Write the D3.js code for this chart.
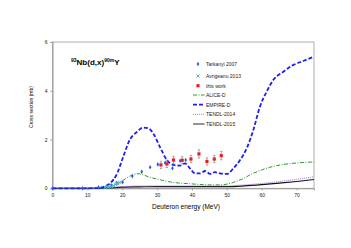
<!DOCTYPE html>
<html><head><meta charset="utf-8">
<script src="https://cdn.jsdelivr.net/npm/d3@7"></script>
<style>body{margin:0;background:#fff}svg{display:block}text{font-family:"Liberation Sans",Arial,sans-serif}</style>
</head><body><svg id="c" width="351" height="248"></svg>
<script>
const xTicks=[0,10,20,30,40,50,60,70];
const yTicks=[0,2,4,6];
const empireE=[0,10,13.6,15,16.5,18.5,20.3,22.2,24.1,26,27.5,28.9,30.8,32.8,34.6,36.6,38,39.4,40.9,42.3,43.8,45.2,46.6,48,50,51.9,53.8,55.7,57.6,59.5,61.4,63.3,66.2,69,71.9,75];
const empireV=[0,0,0.02,0.08,0.2,0.6,1.3,2.0,2.3,2.49,2.46,2.25,1.7,1.16,0.96,0.93,1.02,0.82,0.61,0.61,0.71,0.59,0.66,0.61,0.59,0.82,1.16,1.64,2.39,3.35,3.96,4.44,4.78,5.05,5.22,5.4];
const aliceE=[0,10,15,17,19,21,23,24.5,26,28,30,33,36,39,42,45,48,50,52,55,57,60,62,65,68,71,75];
const aliceV=[0,0,0.01,0.05,0.2,0.4,0.55,0.6,0.55,0.45,0.38,0.28,0.22,0.19,0.16,0.14,0.14,0.17,0.25,0.42,0.58,0.75,0.85,0.95,1.01,1.05,1.08];
const t14E=[0,12,16,20,25,30,40,50,55,60,65,70,75];
const t14V=[0,0,0.02,0.07,0.1,0.1,0.1,0.1,0.14,0.2,0.28,0.37,0.47];
const t15E=[0,12,16,20,25,30,40,50,55,60,65,70,75];
const t15V=[0,0,0.01,0.05,0.06,0.07,0.07,0.07,0.1,0.15,0.21,0.28,0.36];
const tarkE=[0,8.6,13.2,15.5,16.8,18.4,20.1,22.9,25.6,28,30.2,32.3,34.4,36.6,38.2];
const tarkV=[0,0,0.04,0.06,0.12,0.23,0.25,0.5,0.68,0.86,0.98,1.05,0.82,1.13,1.16];
const avrE=[15.2,15.8,16.3,16.9,17.5,18.1,18.7,19.3];
const avrV=[0.03,0.05,0.06,0.08,0.11,0.16,0.2,0.24];
const workE=[31.1,32.8,34.7,37.2,39.7,42,44.3,46.4,48.4];
const workV=[0.96,1.0,1.16,1.15,1.2,1.41,1.1,1.2,1.34];
const workErr=[0.15,0.15,0.15,0.15,0.15,0.17,0.15,0.15,0.17];

const svg=d3.select("#c");
const L=52.5,R=314,T=42,B=188.3;
const x=d3.scaleLinear().domain([0,75]).range([L,R]);
const y=d3.scaleLinear().domain([0,6]).range([B,T]);
svg.append("rect").attr("x",L).attr("y",T).attr("width",R-L).attr("height",B-T).attr("fill","none").attr("stroke","#999").attr("stroke-width",0.8);
const xa=svg.append("g").attr("transform",`translate(0,${B})`).call(d3.axisBottom(x).tickValues(xTicks).tickFormat(d3.format("d")).tickSize(2).tickPadding(3));
const ya=svg.append("g").attr("transform",`translate(${L},0)`).call(d3.axisLeft(y).tickValues(yTicks).tickFormat(d3.format("d")).tickSize(2).tickPadding(3));
[xa,ya].forEach(a=>{a.select(".domain").attr("stroke","#999");a.selectAll("line").attr("stroke","#999");a.selectAll("text").attr("font-size",5).attr("fill","#222");});
svg.append("text").attr("x",186).attr("y",209).attr("text-anchor","middle").attr("font-size",6.5).text("Deuteron energy (MeV)");
svg.append("text").attr("transform","translate(33,107) rotate(-90)").attr("text-anchor","middle").attr("font-size",5).text("Cross section (mb)");
const tt=svg.append("text").attr("x",71).attr("y",65).attr("font-size",8).attr("font-weight","bold");
tt.append("tspan").attr("font-size",5).attr("dy",-3).text("93");
tt.append("tspan").attr("dy",3).text("Nb(d,x)");
tt.append("tspan").attr("font-size",5).attr("dy",-3).text("90m");
tt.append("tspan").attr("dy",3).text("Y");

const line=d3.line().curve(d3.curveMonotoneX);
function path(E,V,st){return svg.append("path").attr("d",line(E.map((e,i)=>[x(e),y(V[i])]))).attr("fill","none").attr("stroke",st.c).attr("stroke-width",st.w).attr("stroke-dasharray",st.d||null);}
const stT15={c:"#111",w:1.2},stT14={c:"#9966cc",w:0.9,d:"1,1"},stAl={c:"#2e9a2e",w:1,d:"4,1.5,1,1.5"},stEm={c:"#1f1fef",w:1.8,d:"4,2"};
path(t15E,t15V,stT15);path(t14E,t14V,stT14);path(aliceE,aliceV,stAl);path(empireE,empireV,stEm);

const diam=d3.symbol().type(d3.symbolDiamond).size(6);
svg.append("g").selectAll("path").data(tarkE).join("path").attr("d",diam).attr("transform",(d,i)=>`translate(${x(d)},${y(tarkV[i])})`).attr("fill","#2a5fd0");
const cross=d3.symbol().type(d3.symbolX).size(8);
svg.append("g").selectAll("path").data(avrE).join("path").attr("d",cross).attr("transform",(d,i)=>`translate(${x(d)},${y(avrV[i])})`).attr("fill","none").attr("stroke","#55b0c8").attr("stroke-width",1);
const wg=svg.append("g");
workE.forEach((e,i)=>{
  wg.append("line").attr("x1",x(e)).attr("x2",x(e)).attr("y1",y(workV[i]-workErr[i])).attr("y2",y(workV[i]+workErr[i])).attr("stroke","#888").attr("stroke-width",0.7);
  [workV[i]-workErr[i],workV[i]+workErr[i]].forEach(v=>wg.append("line").attr("x1",x(e)-1.2).attr("x2",x(e)+1.2).attr("y1",y(v)).attr("y2",y(v)).attr("stroke","#888").attr("stroke-width",0.7));
  wg.append("path").attr("d",d3.symbol().type(d3.symbolSquare).size(10)()).attr("transform",`translate(${x(e)},${y(workV[i])})`).attr("fill","#ee1c1c");
});

// legend
const lg=svg.append("g");
const rows=[{t:"Tarkanyi 2007",k:"d"},{t:"Avrigeanu 2013",k:"x"},{t:"this work",k:"s"},{t:"ALICE-D",k:"l",s:stAl},{t:"EMPIRE-D",k:"l",s:stEm},{t:"TENDL-2014",k:"l",s:stT14},{t:"TENDL-2015",k:"l",s:{c:"#666",w:1.4}}];
const ry=[64,76,85.7,95,104.7,114.3,124];
rows.forEach((r,i)=>{
  const yy=ry[i];
  if(r.k==="d")lg.append("path").attr("d",diam).attr("transform",`translate(198,${yy})`).attr("fill","#2a5fd0");
  if(r.k==="x")lg.append("path").attr("d",cross).attr("transform",`translate(198,${yy})`).attr("fill","none").attr("stroke","#55b0c8").attr("stroke-width",1);
  if(r.k==="s")lg.append("path").attr("d",d3.symbol().type(d3.symbolSquare).size(10)()).attr("transform",`translate(198,${yy})`).attr("fill","#ee1c1c");
  if(r.k==="l")lg.append("line").attr("x1",193).attr("x2",204.5).attr("y1",yy).attr("y2",yy).attr("stroke",r.s.c).attr("stroke-width",r.s.w).attr("stroke-dasharray",r.s.d||null);
  lg.append("text").attr("x",206).attr("y",yy+1.8).attr("font-size",5).attr("fill","#222").text(r.t);
});
</script></body></html>
